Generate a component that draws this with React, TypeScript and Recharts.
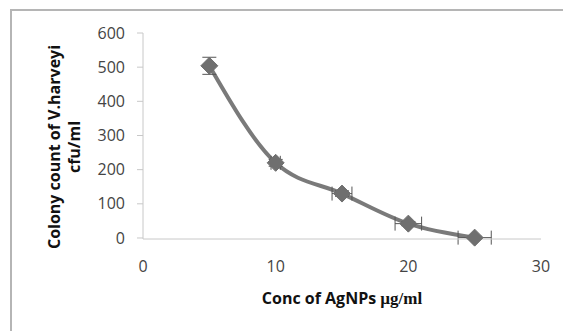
import {
  ComposedChart,
  Line,
  Scatter,
  ErrorBar,
  XAxis,
  YAxis,
  Label,
} from 'recharts';

const concentrations = [5, 10, 15, 20, 25];
const colonyCounts = [504, 220, 130, 42, 1];
const errorConc = [0, 0.35, 0.75, 1, 1.25];
const errorCount = [25, 10, 8, 6, 4];
const xTicks = [0, 10, 20, 30];
const yTicks = [0, 100, 200, 300, 400, 500, 600];

const data = concentrations.map((c, i) => ({
  conc: c,
  count: colonyCounts[i],
  ex: errorConc[i],
  ey: errorCount[i],
}));

const tickStyle = { fontSize: 16, fill: '#444', fontFamily: 'Open Sans, sans-serif' };

// diamond marker like the Excel default
const Diamond = (props: any) => {
  const { cx, cy } = props;
  if (cx == null || cy == null) return null;
  const r = 8.5;
  return (
    <polygon
      points={`${cx},${cy - r} ${cx + r},${cy} ${cx},${cy + r} ${cx - r},${cy}`}
      fill="#6f6f6f"
      stroke="#6f6f6f"
      strokeWidth={1}
    />
  );
};

export default function App() {
  return (
    <div style={{ position: 'absolute', left: 0, top: 0, width: 563, height: 331, overflow: 'hidden', background: '#fff' }}>
      <div
        style={{
          position: 'absolute',
          left: 10,
          top: 9,
          width: 600,
          height: 400,
          border: '2px solid #b5b5b5',
        }}
      />
      <div style={{ position: 'absolute', left: 0, top: 0 }}>
        <ComposedChart
          width={563}
          height={331}
          data={data}
          margin={{ top: 33, right: 22, left: 0, bottom: 0 }}
        >
          <XAxis
            type="number"
            dataKey="conc"
            domain={[0, 30]}
            ticks={xTicks}
            tick={tickStyle}
            tickLine={false}
            tickSize={0}
            tickMargin={22}
            axisLine={{ stroke: '#c8c8c8' }}
            height={92}
          >
            <Label
              content={() => (
                <text x={342} y={304} textAnchor="middle" fontWeight="bold" fontSize={16} fill="#111">
                  <tspan fontFamily="Open Sans, sans-serif">Conc of AgNPs </tspan>
                  <tspan fontFamily="Liberation Serif, serif" fontSize={17}>µg/ml</tspan>
                </text>
              )}
            />
          </XAxis>
          <YAxis
            type="number"
            dataKey="count"
            domain={[0, 600]}
            ticks={yTicks}
            tick={tickStyle}
            tickSize={6}
            tickMargin={12}
            tickLine={{ stroke: '#c8c8c8' }}
            axisLine={{ stroke: '#c8c8c8' }}
            width={143}
          >
            <Label
              content={() => (
                <g transform="rotate(-90, 65, 147)">
                  <text x={65} y={142} textAnchor="middle" fontWeight="bold" fontSize={16} fill="#111" fontFamily="Open Sans, sans-serif">
                    Colony count of V.harveyi
                  </text>
                  <text x={65} y={162} textAnchor="middle" fontWeight="bold" fontSize={16} fill="#111" fontFamily="Open Sans, sans-serif">
                    cfu/ml
                  </text>
                </g>
              )}
            />
          </YAxis>
          <Line
            type="monotone"
            dataKey="count"
            stroke="#7a7a7a"
            strokeWidth={4}
            dot={false}
            activeDot={false}
            isAnimationActive={false}
          />
          <Scatter dataKey="count" shape={<Diamond />} isAnimationActive={false}>
            <ErrorBar dataKey="ey" direction="y" width={7} stroke="#555" strokeWidth={1} />
            <ErrorBar dataKey="ex" direction="x" width={7} stroke="#555" strokeWidth={1} />
          </Scatter>
        </ComposedChart>
      </div>
    </div>
  );
}
